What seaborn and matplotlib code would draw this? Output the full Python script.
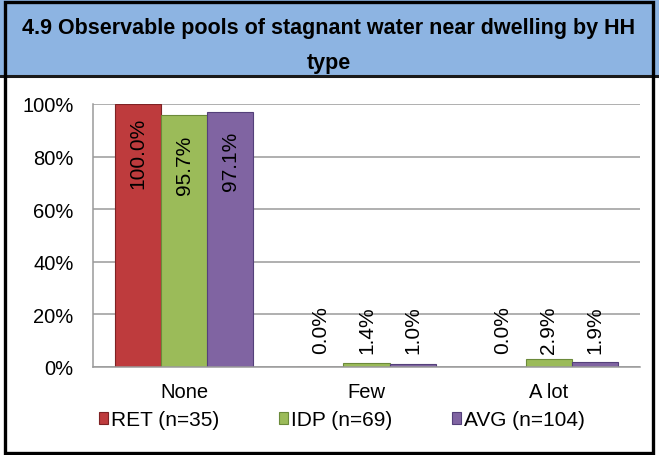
import numpy as np
import pandas as pd
import matplotlib
matplotlib.use('Agg')
import matplotlib.pyplot as plt
import seaborn as sns
from matplotlib.patches import Rectangle
from matplotlib.lines import Line2D

# data
categories = ['None', 'Few', 'A lot']
groups = ['RET (n=35)', 'IDP (n=69)', 'AVG (n=104)']
ret_values = [100.0, 0.0, 0.0]
idp_values = [95.7, 1.4, 2.9]
avg_values = [97.1, 1.0, 1.9]
y_ticks = [0, 20, 40, 60, 80, 100]
title = '4.9 Observable pools of stagnant water near dwelling by HH\ntype'

colors = ['#BE3B3D', '#9BBB59', '#8064A2']
edges = ['#7E2224', '#6B8A3A', '#54407A']

df = pd.DataFrame({
    'category': categories * 3,
    'group': [g for g in groups for _ in categories],
    'value': ret_values + idp_values + avg_values,
})

sns.set_style('white')
plt.rcParams['font.family'] = ['Liberation Sans', 'DejaVu Sans']
plt.rcParams['text.color'] = 'black'
plt.rcParams['xtick.labelcolor'] = 'black'
plt.rcParams['ytick.labelcolor'] = 'black'

W, H = 659, 456
fig = plt.figure(figsize=(W / 100, H / 100), dpi=100)

# header band + outer frame
fig.patches.append(Rectangle((0, 1 - 77 / H), 1, 77 / H, transform=fig.transFigure,
                             facecolor='#8DB4E2', edgecolor='none', zorder=0))
fig.lines.append(Line2D([0, 1], [1 - 77 / H, 1 - 77 / H], transform=fig.transFigure,
                        color='#1a1a1a', lw=2.2))
fig.patches.append(Rectangle((5 / W, 2 / H), 648 / W, 451 / H, transform=fig.transFigure,
                             facecolor='none', edgecolor='black', lw=2.4, zorder=5))
fig.text(329 / W, 1 - 46 / H, title, ha='center', va='center', fontsize=15.5,
         fontweight='bold', linespacing=1.9)

ax = fig.add_axes([93 / W, 1 - 368 / H, 547 / W, 263 / H])
sns.barplot(data=df, x='category', y='value', hue='group', hue_order=groups,
            order=categories, palette=colors, width=0.76, gap=0, ax=ax,
            legend=False, errorbar=None, saturation=1)

for cont, ec in zip(ax.containers, edges):
    for bar in cont:
        bar.set_edgecolor(ec)
        bar.set_linewidth(0.8)
    for bar, v in zip(cont, cont.datavalues):
        x = bar.get_x() + bar.get_width() / 2
        if v > 50:
            ax.text(x, v - 18.5, f'{v:.1f}%', rotation=90, ha='center', va='center',
                    fontsize=15)
        else:
            ax.text(x, 5.5, f'{v:.1f}%', rotation=90, ha='center', va='bottom',
                    fontsize=15)

ax.set_ylim(0, 100)
ax.set_xlim(-0.5, 2.5)
ax.set_yticks(y_ticks)
ax.set_yticklabels([f'{t}%' for t in y_ticks])
ax.yaxis.grid(True, color='#9A9A9A', lw=1.1)
ax.set_axisbelow(True)
ax.set_xlabel('')
ax.set_ylabel('')
for s in ['top', 'right']:
    ax.spines[s].set_visible(False)
for s in ['left', 'bottom']:
    ax.spines[s].set_color('#9A9A9A')
    ax.spines[s].set_linewidth(1.1)
ax.tick_params(axis='y', length=5, width=1.1, color='#9A9A9A', pad=9, labelsize=14.5)
ax.tick_params(axis='x', which='major', length=0, pad=11, labelsize=14.5)
ax.set_xticks([0.5, 1.5, 2.5], minor=True)
ax.tick_params(axis='x', which='minor', length=5, width=1.1, color='#9A9A9A', direction='out')

handles = [Rectangle((0, 0), 1, 1, facecolor=c, edgecolor=e, lw=0.8)
           for c, e in zip(colors, edges)]
fig.legend(handles, groups, loc='center', bbox_to_anchor=(342 / W, 1 - 421 / H),
           ncol=3, frameon=False, fontsize=15, handlelength=0.45, handleheight=0.45,
           handletextpad=0.15, columnspacing=2.85, borderpad=0)

fig.savefig('out.png', dpi=100)
